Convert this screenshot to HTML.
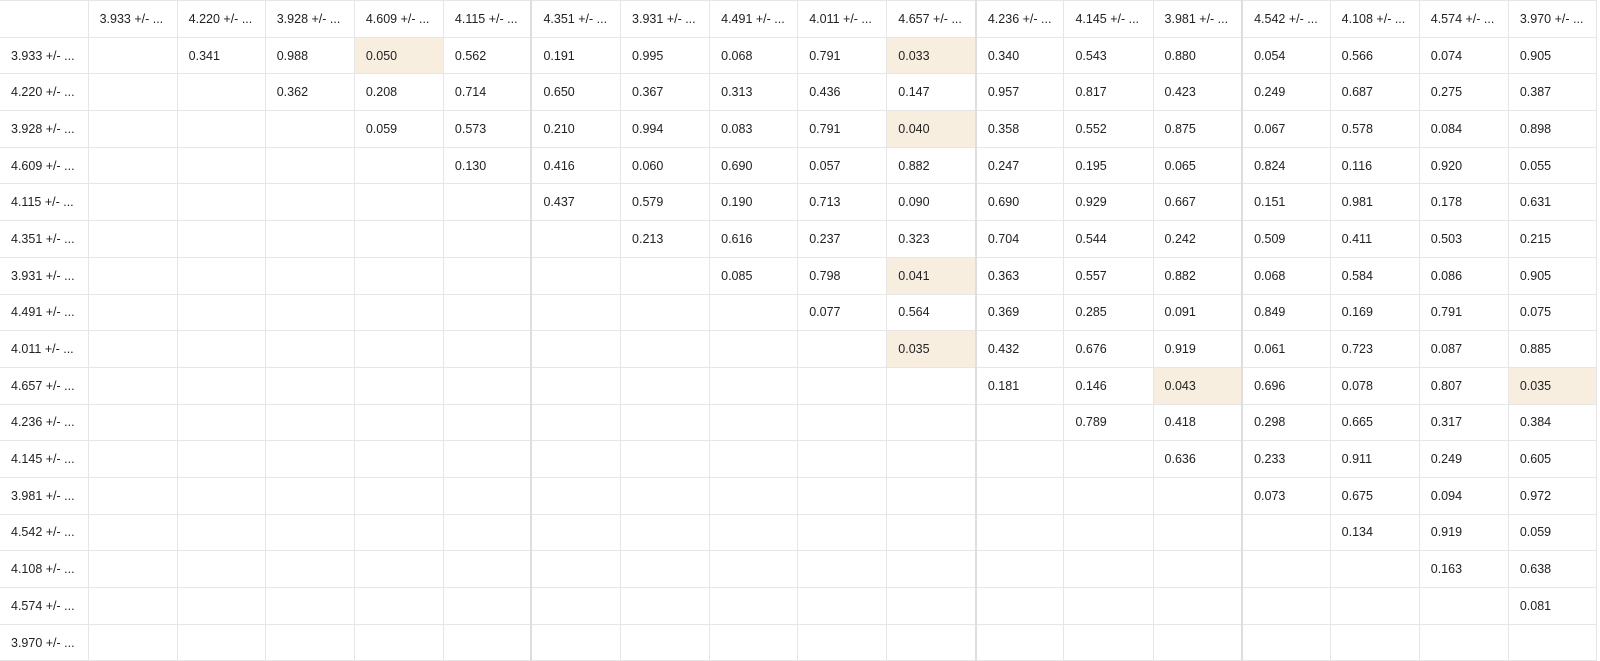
<!DOCTYPE html>
<html><head><meta charset="utf-8">
<style>
body{margin:0;background:#fff;width:1600px;height:658px;overflow:hidden;font-family:"Liberation Sans",Arial,sans-serif;}
table{border-collapse:collapse;table-layout:fixed;position:absolute;left:0;top:0;width:1597px;border-top:1px solid #d8d8d8;}
tr{height:36.7px}
td,th{height:36.7px;border:1px solid #e6e6e6;font-size:12.5px;font-weight:normal;color:#222;text-align:left;padding:0 0 0 11px;white-space:nowrap;overflow:hidden;box-sizing:border-box;}
tr:first-child th{border-top:none}
th:first-child,td:first-child{border-left:none}
.sep{border-left:2px solid #dedede}
.hl{background:#f8eee0}
</style></head><body>
<table id="t"></table>
<script>
const labels=["3.933","4.220","3.928","4.609","4.115","4.351","3.931","4.491","4.011","4.657","4.236","4.145","3.981","4.542","4.108","4.574","3.970"];
const r0=[0.341,0.988,0.050,0.562,0.191,0.995,0.068,0.791,0.033,0.340,0.543,0.880,0.054,0.566,0.074,0.905];
const r1=[0.362,0.208,0.714,0.650,0.367,0.313,0.436,0.147,0.957,0.817,0.423,0.249,0.687,0.275,0.387];
const r2=[0.059,0.573,0.210,0.994,0.083,0.791,0.040,0.358,0.552,0.875,0.067,0.578,0.084,0.898];
const r3=[0.130,0.416,0.060,0.690,0.057,0.882,0.247,0.195,0.065,0.824,0.116,0.920,0.055];
const r4=[0.437,0.579,0.190,0.713,0.090,0.690,0.929,0.667,0.151,0.981,0.178,0.631];
const r5=[0.213,0.616,0.237,0.323,0.704,0.544,0.242,0.509,0.411,0.503,0.215];
const r6=[0.085,0.798,0.041,0.363,0.557,0.882,0.068,0.584,0.086,0.905];
const r7=[0.077,0.564,0.369,0.285,0.091,0.849,0.169,0.791,0.075];
const r8=[0.035,0.432,0.676,0.919,0.061,0.723,0.087,0.885];
const r9=[0.181,0.146,0.043,0.696,0.078,0.807,0.035];
const r10=[0.789,0.418,0.298,0.665,0.317,0.384];
const r11=[0.636,0.233,0.911,0.249,0.605];
const r12=[0.073,0.675,0.094,0.972];
const r13=[0.134,0.919,0.059];
const r14=[0.163,0.638];
const r15=[0.081];
const r16=[];
const rows=[r0,r1,r2,r3,r4,r5,r6,r7,r8,r9,r10,r11,r12,r13,r14,r15,r16];
const widths=[88,89,88,89,89,88,89,89,88,89,89,88,89,89,88,89,89,88];
const seps=[6,11,14];
const t=document.getElementById('t');
const cg=document.createElement('colgroup');
widths.forEach(w=>{const c=document.createElement('col');c.style.width=w+'px';cg.appendChild(c);});
t.appendChild(cg);
const hr=document.createElement('tr');


const corner=document.createElement('th');


hr.appendChild(corner);
labels.forEach((l,j)=>{const th=document.createElement('th');th.textContent=l+' +/- ...';


if(seps.includes(j+1))th.className='sep';hr.appendChild(th);});
t.appendChild(hr);
rows.forEach((r,i)=>{const tr=document.createElement('tr');


const th=document.createElement('td');th.textContent=labels[i]+' +/- ...';


tr.appendChild(th);
for(let j=0;j<labels.length;j++){const td=document.createElement('td');


const k=j-i-1;let cls=[];if(seps.includes(j+1))cls.push('sep');
if(k>=0&&k<r.length){td.textContent=r[k].toFixed(3);if(r[k]<=0.05)cls.push('hl');}
td.className=cls.join(' ');tr.appendChild(td);}
t.appendChild(tr);});
</script>
</body></html>
